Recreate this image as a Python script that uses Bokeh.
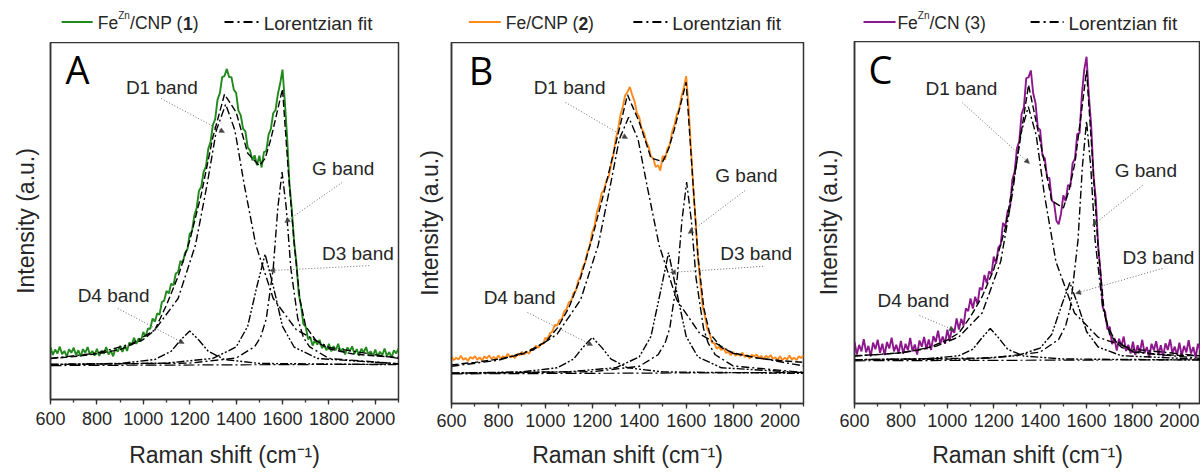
from bokeh.plotting import figure
from bokeh.layouts import row, column
from bokeh.models import Range1d, SingleIntervalTicker, FixedTicker, Label, Arrow, NormalHead
from bokeh.embed import file_html
from bokeh.resources import INLINE

# ------------------------------------------------------------------ data
shift = list(range(600, 2101, 10))          # Raman shift (cm-1) of spectra

spec_A = [14.6, 12.5, 14.0, 12.9, 14.8, 12.7, 13.6, 12.0, 14.1, 13.1,
          14.5, 12.4, 13.8, 12.1, 14.1, 13.1, 14.7, 12.6, 13.6, 12.3,
          14.2, 12.2, 13.7, 12.8, 14.7, 12.6, 13.7, 12.1, 14.3, 13.4,
          15.0, 13.3, 15.0, 13.6, 16.0, 15.3, 17.3, 15.6, 17.1, 16.3,
          18.9, 17.6, 19.9, 19.8, 22.7, 21.8, 24.1, 23.8, 27.3, 27.7,
          30.4, 29.7, 32.4, 32.0, 35.3, 35.7, 38.8, 38.3, 41.1, 42.0,
          46.4, 47.2, 51.6, 53.6, 58.5, 59.6, 63.8, 65.2, 70.2, 72.2,
          76.9, 78.6, 84.0, 85.8, 90.3, 90.6, 92.6, 90.3, 90.3, 86.8,
          85.9, 80.9, 79.6, 75.9, 75.1, 70.6, 69.8, 67.0, 68.4, 65.6,
          68.3, 65.0, 69.3, 69.6, 74.2, 75.8, 80.2, 81.1, 85.5, 88.5,
          92.4, 83.5, 73.4, 60.4, 53.3, 44.2, 38.2, 29.6, 26.2, 21.2,
          20.4, 16.9, 17.4, 15.1, 16.7, 15.4, 16.7, 14.4, 15.2, 13.8,
          15.6, 13.5, 14.9, 13.8, 15.6, 13.4, 14.3, 12.6, 14.6, 13.5,
          14.9, 12.8, 14.1, 12.3, 14.2, 13.2, 14.7, 12.6, 13.5, 12.2,
          14.0, 12.0, 13.4, 12.4, 14.3, 12.2, 13.3, 11.7, 13.8, 12.9,
          14.3]

spec_B = [13.0, 12.0, 12.7, 12.2, 13.2, 12.1, 12.6, 11.8, 12.9, 12.4,
          13.1, 12.1, 12.8, 11.9, 13.0, 12.5, 13.3, 12.4, 12.9, 12.3,
          13.3, 12.4, 13.1, 12.7, 13.8, 12.8, 13.3, 12.6, 13.7, 13.4,
          14.3, 13.5, 14.4, 13.8, 15.1, 14.9, 16.0, 15.4, 16.5, 16.5,
          18.2, 18.0, 19.5, 19.9, 21.8, 21.6, 23.1, 23.3, 25.5, 26.1,
          28.0, 28.4, 30.6, 31.3, 34.0, 35.3, 37.9, 39.1, 42.0, 43.9,
          47.5, 49.3, 53.2, 55.1, 58.3, 59.2, 61.7, 62.8, 66.2, 68.9,
          73.4, 75.9, 79.9, 82.2, 85.4, 86.3, 87.7, 85.5, 83.7, 80.5,
          79.3, 76.2, 75.0, 72.5, 71.1, 68.4, 67.9, 65.5, 66.0, 64.5,
          68.6, 67.5, 70.6, 71.6, 75.2, 77.1, 80.0, 81.4, 85.0, 87.5,
          90.7, 82.5, 71.2, 60.2, 50.7, 40.6, 33.6, 27.1, 24.2, 20.7,
          19.4, 16.9, 16.7, 15.2, 15.7, 14.8, 15.3, 14.0, 14.3, 13.4,
          14.3, 13.2, 13.8, 13.2, 14.1, 12.9, 13.4, 12.5, 13.5, 13.0,
          13.6, 12.6, 13.2, 12.3, 13.2, 12.7, 13.4, 12.4, 12.8, 12.1,
          13.1, 12.0, 12.7, 12.2, 13.3, 12.2, 12.7, 12.0, 13.1, 12.6,
          13.3]

spec_C = [17.1, 13.5, 16.2, 14.4, 17.8, 14.1, 15.9, 13.0, 16.8, 15.0,
          17.6, 14.0, 16.5, 13.4, 17.0, 15.2, 18.2, 14.4, 16.2, 13.9,
          17.3, 13.7, 16.5, 14.7, 18.1, 14.4, 16.3, 13.5, 17.4, 15.7,
          18.4, 15.0, 17.7, 14.8, 18.6, 17.0, 20.1, 16.5, 18.5, 16.5,
          20.4, 17.4, 20.7, 19.5, 23.5, 20.4, 23.4, 21.5, 26.3, 25.5,
          29.0, 26.2, 29.5, 27.4, 32.0, 31.4, 35.5, 33.2, 36.5, 35.7,
          40.6, 38.6, 43.1, 43.9, 49.9, 48.8, 53.2, 54.0, 61.8, 64.0,
          70.5, 72.4, 79.9, 81.8, 89.9, 90.1, 92.0, 85.7, 83.0, 76.2,
          75.6, 68.5, 67.7, 62.4, 62.3, 56.1, 55.4, 50.5, 49.5, 52.5,
          57.5, 55.9, 60.4, 59.8, 66.4, 67.6, 74.5, 74.7, 85.5, 92.2,
          95.8, 85.0, 76.7, 62.9, 56.3, 43.6, 36.4, 26.5, 25.3, 20.5,
          21.2, 16.4, 18.1, 14.6, 17.9, 15.8, 18.5, 14.5, 16.2, 13.8,
          17.1, 13.4, 16.1, 14.2, 17.6, 13.9, 15.6, 12.7, 16.5, 14.7,
          17.2, 13.6, 16.1, 13.0, 16.6, 14.8, 17.7, 13.9, 15.7, 13.4,
          16.8, 13.2, 15.9, 14.1, 17.5, 13.8, 15.6, 12.7, 16.5, 14.7,
          17.2]

# cumulative Lorentzian fit
fit_x = [600, 700, 800, 900, 1000, 1050, 1100, 1150, 1200, 1250, 1300, 1350, 1400, 1450,
         1500, 1525, 1550, 1575, 1600, 1625, 1650, 1675, 1700, 1750, 1800, 1900, 2000, 2100]
fit_A = [11.5, 12.0, 12.8, 14.0, 16.8, 19.5, 26.5, 34.5, 44.5, 57.5, 73.5, 85.5, 80.5, 69.0,
         65.5, 67.5, 73.0, 80.0, 87.0, 64.0, 44.0, 28.0, 20.5, 16.0, 14.2, 12.8, 12.2, 11.8]
fit_B = [10.7, 11.4, 12.3, 13.6, 17.0, 20.8, 26.5, 34.8, 46.0, 58.5, 72.0, 85.5, 78.0, 68.0,
         67.0, 70.5, 76.0, 82.5, 89.0, 65.0, 41.0, 26.5, 19.5, 15.5, 14.0, 12.6, 11.9, 11.4]
fit_C = [13.2, 13.5, 14.0, 15.0, 17.5, 19.5, 24.0, 29.5, 37.0, 48.5, 67.0, 88.0, 72.5, 56.0,
         54.0, 59.0, 66.5, 79.0, 92.0, 68.0, 43.0, 26.0, 19.0, 15.5, 14.5, 13.6, 13.3, 13.2]

# baselines
base_x = [600, 2100]
base_A = [9.5, 9.9]
base_B = [8.2, 8.6]
base_C = [11.8, 12.1]

# fitted bands, panel A
d1_x_A = [600, 800, 950, 1050, 1150, 1225, 1275, 1315, 1355, 1395, 1435, 1485, 1560, 1660, 1800, 2100]
d1_y_A = [11.5, 13.0, 15.6, 19.5, 28.3, 43.3, 60.2, 75.4, 82.7, 75.4, 60.2, 43.3, 28.3, 19.5, 14.6, 11.5]
g_x_A = [600, 1200, 1400, 1480, 1506, 1530, 1560, 1580, 1598, 1616, 1636, 1666, 1690, 1716, 1800, 2100]
g_y_A = [9.8, 10.2, 11.6, 14.8, 17.5, 22.6, 36.7, 53.8, 63.7, 53.8, 36.7, 22.6, 17.4, 14.8, 11.5, 10.0]
d3_x_A = [600, 1100, 1300, 1400, 1450, 1490, 1525, 1560, 1600, 1650, 1750, 2100]
d3_y_A = [9.8, 10.2, 11.5, 14.7, 20.5, 31.8, 40.7, 31.8, 20.5, 14.7, 11.5, 10.0]
d4_x_A = [600, 900, 1050, 1120, 1160, 1200, 1240, 1280, 1350, 1500, 2100]
d4_y_A = [9.8, 10.1, 11.2, 13.5, 16.6, 19.2, 16.6, 13.5, 11.2, 10.1, 9.75]

# fitted bands, panel B
d1_x_B = [600, 800, 950, 1050, 1150, 1225, 1275, 1315, 1355, 1395, 1435, 1485, 1560, 1660, 1800, 2100]
d1_y_B = [10.3, 12.0, 14.9, 19.2, 28.7, 43.8, 59.8, 73.2, 79.3, 73.2, 59.8, 43.8, 28.7, 19.2, 13.9, 10.4]
g_x_B = [600, 1200, 1400, 1480, 1510, 1530, 1562, 1582, 1602, 1622, 1642, 1674, 1694, 1724, 1800, 2100]
g_y_B = [8.4, 8.8, 10.3, 13.5, 16.7, 20.8, 34.8, 50.7, 61.3, 50.7, 34.8, 20.8, 16.7, 13.5, 10.4, 8.6]
d3_x_B = [600, 1100, 1300, 1400, 1450, 1490, 1525, 1560, 1600, 1650, 1750, 2100]
d3_y_B = [8.4, 8.8, 9.9, 12.9, 18.6, 30.8, 41.8, 30.8, 18.6, 12.9, 9.9, 8.55]
d4_x_B = [600, 900, 1050, 1120, 1160, 1200, 1240, 1280, 1350, 1500, 2100]
d4_y_B = [8.4, 8.75, 9.9, 12.3, 15.55, 18.3, 15.55, 12.3, 9.9, 8.75, 8.35]

# fitted bands, panel C
d1_x_C = [600, 800, 950, 1050, 1150, 1230, 1280, 1315, 1349, 1383, 1418, 1468, 1548, 1650, 1800, 2100]
d1_y_C = [13.1, 14.0, 15.8, 18.4, 25.0, 39.2, 57.8, 74.1, 82.0, 74.1, 57.8, 39.2, 25.0, 18.3, 15.0, 13.1]
g_x_C = [600, 1200, 1400, 1480, 1510, 1530, 1563, 1582, 1600, 1618, 1637, 1670, 1690, 1720, 1800, 2100]
g_y_C = [12.1, 12.6, 14.2, 17.7, 21.5, 26.4, 45.0, 65.4, 78.0, 65.4, 45.0, 26.4, 21.5, 17.7, 14.2, 12.4]
d3_x_C = [600, 1100, 1300, 1400, 1450, 1493, 1528, 1563, 1600, 1650, 1750, 2100]
d3_y_C = [12.1, 12.3, 13.2, 15.3, 19.1, 27.2, 33.4, 27.2, 19.9, 15.6, 13.2, 12.2]
d4_x_C = [600, 900, 1050, 1110, 1150, 1185, 1220, 1260, 1330, 1500, 2100]
d4_y_C = [12.1, 12.3, 13.2, 15.0, 18.2, 20.7, 18.2, 15.0, 13.1, 12.3, 12.0]

band_names = ["D1 band", "G band", "D3 band", "D4 band"]
series_names = [["Fe", "Zn", "/CNP (", "1", ")"], ["Fe/CNP (", "2", ")"], ["Fe", "Zn", "/CN (3)"]]
fit_name = "Lorentzian fit"
panel_letters = ["A", "B", "C"]
x_title = "Raman shift (cm\u207b\u00b9)"
y_title = "Intensity (a.u.)"

# ------------------------------------------------------------------ style
FONT = "Liberation Sans"
TXT = "#262626"
AX = "#333333"
COLORS = ["#22891c", "#ff8a1c", "#8c168c"]
DASH_BAND = "8 3 2 3"
DASH_BAND2 = "8 2 2 2 2 2"
DASH_FIT = "7 3"
DASH_BASE = "11 3 2 3"


def legend_fig(i, cfg):
    q = figure(output_backend="svg", toolbar_location=None, title=None,
               frame_width=cfg["fw"], frame_height=cfg["bt"],
               min_border_left=cfg["bl"], min_border_right=cfg["br"],
               min_border_top=0, min_border_bottom=0,
               x_range=Range1d(600, cfg["xend"]), y_range=Range1d(0, cfg["bt"]),
               x_axis_location=None, y_axis_location=None)
    q.outline_line_color = None
    q.grid.visible = False
    q.background_fill_color = "white"
    q.border_fill_color = "white"
    lg = cfg["legend"]
    yl = cfg["bt"] - 22.5      # text centre, 22.5 px below the top
    yline = cfg["bt"] - 21.5
    q.add_layout(Arrow(x_start=lg["line"][0], y_start=yline, x_end=lg["line"][1], y_end=yline,
                       start=None, end=None, line_color=COLORS[i], line_width=2.2))
    q.add_layout(Arrow(x_start=lg["sample"][0], y_start=yline, x_end=lg["sample"][1], y_end=yline,
                       start=None, end=None, line_color="black", line_width=2, line_dash="9 4 2 4"))
    for txt, (px, dy, size, bold) in zip(series_names[i], lg["pieces"]):
        q.add_layout(Label(x=px, y=yl + dy, text=txt, text_font=FONT, text_font_size=size,
                           text_font_style="bold" if bold else "normal",
                           text_color=TXT, text_align="left", text_baseline="middle"))
    q.add_layout(Label(x=lg["fitx"], y=yl, text=fit_name, text_font=FONT, text_font_size="19px",
                       text_color=TXT, text_align="left", text_baseline="middle"))
    return q


def build(i, spec, comps, fit, base, cfg):
    p = figure(output_backend="svg", toolbar_location=None, title=None,
               frame_width=cfg["fw"], frame_height=cfg["fh"],
               min_border_left=cfg["bl"], min_border_right=cfg["br"],
               min_border_top=0, min_border_bottom=cfg["bb"],
               x_range=Range1d(600, cfg["xend"]), y_range=Range1d(0, 100))
    p.background_fill_color = "white"
    p.border_fill_color = "white"
    p.grid.visible = False
    p.outline_line_color = AX
    p.outline_line_width = 1.5

    xa = p.xaxis[0]
    xa.ticker = SingleIntervalTicker(interval=200, num_minor_ticks=2)
    xa.axis_line_color = AX
    xa.axis_line_width = 1.5
    xa.major_tick_line_color = AX
    xa.minor_tick_line_color = AX
    xa.major_tick_line_width = 1.3
    xa.minor_tick_line_width = 1.3
    xa.major_tick_in = 0
    xa.major_tick_out = 5
    xa.minor_tick_in = 0
    xa.minor_tick_out = 3
    xa.major_label_standoff = cfg["lstand"]
    xa.major_label_text_font = FONT
    xa.major_label_text_font_size = "18px"
    xa.major_label_text_color = TXT
    xa.axis_label = x_title
    xa.axis_label_text_font = FONT
    xa.axis_label_text_font_size = "23px"
    xa.axis_label_text_font_style = "normal"
    xa.axis_label_text_color = TXT
    xa.axis_label_standoff = cfg["xstand"]

    ya = p.yaxis[0]
    ya.ticker = FixedTicker(ticks=[])
    ya.axis_line_color = AX
    ya.axis_line_width = 1.5
    ya.major_tick_out = 0
    ya.major_tick_in = 0
    ya.major_label_standoff = 0
    ya.axis_label = y_title
    ya.axis_label_text_font = FONT
    ya.axis_label_text_font_size = "23px"
    ya.axis_label_text_font_style = "normal"
    ya.axis_label_text_color = TXT
    ya.axis_label_standoff = cfg["ystand"]

    # spectrum
    p.line(shift, spec, line_color=COLORS[i], line_width=1.9)
    # fits
    p.line(base_x, base, line_color="black", line_width=1.2, line_dash=DASH_BASE)
    dashes = [DASH_BAND, DASH_BAND, DASH_BAND2, DASH_BAND2]
    for (cx, cy), dsh in zip(comps, dashes):
        p.line(cx, cy, line_color="black", line_width=1.4, line_dash=dsh)
    p.line(fit_x, fit, line_color="black", line_width=1.4, line_dash=DASH_FIT)

    # panel letter
    lx, ly = cfg["letter"]
    p.add_layout(Label(x=lx, y=ly, text=panel_letters[i], text_font="Open Sans", text_font_size="38px",
                       text_color="black", text_align="left", text_baseline="middle"))

    # band labels with dotted leaders
    for name, (tx, ty, x0, y0, x1, y1) in zip(band_names, cfg["bands"]):
        p.add_layout(Label(x=tx, y=ty, text=name, text_font=FONT, text_font_size="19px",
                           text_color=TXT, text_align="left", text_baseline="middle"))
        p.add_layout(Arrow(x_start=x0, y_start=y0, x_end=x1, y_end=y1,
                           line_color="#6a6a6a", line_width=1, line_dash="1 2",
                           end=NormalHead(size=5, fill_color="#444", line_color="#444", line_width=0.5)))
    return column(legend_fig(i, cfg), p)


cfgA = dict(fw=348, fh=357, bl=50, br=14, bt=42, bb=73, xend=2100, lstand=7, xstand=14, ystand=12,
            letter=(665, 92.7),
            bands=[(925, 87.4, 1077, 84.3, 1350, 74.8),
                   (1727, 64.7, 1857, 60.8, 1610, 49.6),
                   (1770, 40.9, 1974, 37.5, 1545, 36.1),
                   (717, 29.1, 890, 25.5, 1176, 15.7)],
            legend=dict(line=(648, 782), sample=(1350, 1497), fitx=1519,
                        pieces=[(804, 0, "17.5px", False), (892, 8, "10px", False),
                                (943, 0, "17.5px", False), (1171, 0, "17.5px", True),
                                (1213, 0, "17.5px", False)]))
cfgB = dict(fw=352, fh=361, bl=39, br=8, bt=42, bb=69, xend=2100, lstand=5, xstand=12, ystand=9,
            letter=(674, 92.5),
            bands=[(950, 87.5, 1086, 83.4, 1350, 73.4),
                   (1724, 63.2, 1851, 59.0, 1609, 47.1),
                   (1745, 41.6, 1928, 38.0, 1533, 36.3),
                   (737, 29.4, 924, 25.2, 1201, 16.1)],
            legend=dict(line=(674, 810), sample=(1375, 1520), fitx=1541,
                        pieces=[(831, 0, "17.5px", False), (1141, 0, "17.5px", True),
                                (1182, 0, "17.5px", False)]))
cfgC = dict(fw=346, fh=362, bl=43, br=0, bt=41, bb=69, xend=2091, lstand=5, xstand=12, ystand=13,
            letter=(660, 92.3),
            bands=[(906, 87.0, 1065, 83.1, 1354, 66.3),
                   (1721, 64.4, 1841, 60.2, 1626, 49.2),
                   (1755, 40.3, 1927, 37.3, 1553, 30.4),
                   (699, 28.5, 880, 24.3, 1031, 20.2)],
            legend=dict(line=(639, 777), sample=(1359, 1501), fitx=1522,
                        pieces=[(785, 0, "17.5px", False), (873, 8, "10px", False),
                                (923, 0, "17.5px", False)]))

colA = build(0, spec_A, [(d1_x_A, d1_y_A), (g_x_A, g_y_A), (d3_x_A, d3_y_A), (d4_x_A, d4_y_A)],
             fit_A, base_A, cfgA)
colB = build(1, spec_B, [(d1_x_B, d1_y_B), (g_x_B, g_y_B), (d3_x_B, d3_y_B), (d4_x_B, d4_y_B)],
             fit_B, base_B, cfgB)
colC = build(2, spec_C, [(d1_x_C, d1_y_C), (g_x_C, g_y_C), (d3_x_C, d3_y_C), (d4_x_C, d4_y_C)],
             fit_C, base_C, cfgC)

layout = row(colA, colB, colC)
open("out.html", "w").write(file_html(layout, INLINE))
